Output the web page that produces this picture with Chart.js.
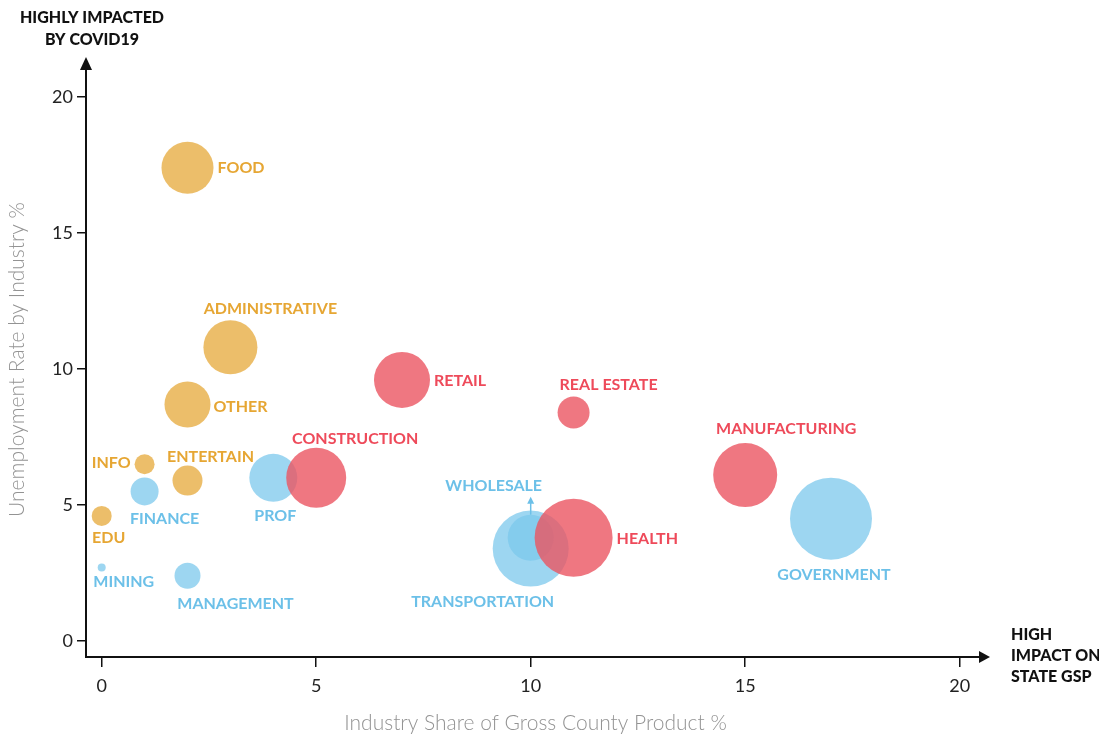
<!DOCTYPE html>
<html>
<head>
<meta charset="utf-8">
<script src="https://cdn.jsdelivr.net/npm/chart.js@4.4.1/dist/chart.umd.min.js"></script>
<style>
  html, body { margin: 0; padding: 0; background: #fff; }
  #wrap { width: 1099px; height: 736px; position: relative; }
</style>
</head>
<body>
<div id="wrap"><canvas id="chart"></canvas></div>
<script>
// Industries, grouped by colour (red / orange / blue)
const redNames = ['RETAIL', 'REAL ESTATE', 'CONSTRUCTION', 'HEALTH', 'MANUFACTURING'];
const redShare = [7, 11, 5, 11, 15];
const redUnemp = [9.6, 8.4, 6.0, 3.8, 6.1];
const redSize = [28, 16, 30, 39, 32];

const orangeNames = ['FOOD', 'ADMINISTRATIVE', 'OTHER', 'INFO', 'ENTERTAIN', 'EDU'];
const orangeShare = [2, 3, 2, 1, 2, 0];
const orangeUnemp = [17.4, 10.8, 8.7, 6.5, 5.9, 4.6];
const orangeSize = [26, 27, 23, 10, 15, 10];

const blueNames = ['PROF', 'FINANCE', 'MINING', 'MANAGEMENT', 'TRANSPORTATION', 'WHOLESALE', 'GOVERNMENT'];
const blueShare = [4, 1, 0, 2, 10, 10, 17];
const blueUnemp = [6.0, 5.5, 2.7, 2.4, 3.4, 3.8, 4.5];
const blueSize = [24, 14, 4, 13, 38, 23, 41];

const xTicks = [0, 5, 10, 15, 20];
const yTicks = [0, 5, 10, 15, 20];

// label placement relative to the bubble centre
const labelPos = {
  'FOOD': [30, 0, 'left'],
  'ADMINISTRATIVE': [40, -38, 'center'],
  'OTHER': [26, 2, 'left'],
  'INFO': [-14, -1, 'right'],
  'ENTERTAIN': [23, -24, 'center'],
  'EDU': [7, 22, 'center'],
  'RETAIL': [32, 1, 'left'],
  'REAL ESTATE': [35, -28, 'center'],
  'CONSTRUCTION': [39, -39, 'center'],
  'HEALTH': [43, 1, 'left'],
  'MANUFACTURING': [41, -46, 'center'],
  'PROF': [2, 38, 'center'],
  'FINANCE': [20, 27, 'center'],
  'MINING': [22, 14, 'center'],
  'MANAGEMENT': [48, 28, 'center'],
  'TRANSPORTATION': [-48, 53, 'center'],
  'WHOLESALE': [-37, -52, 'center'],
  'GOVERNMENT': [3, 56, 'center']
};

const FONT = "Lato, 'Noto Sans', sans-serif";

function points(xs, ys, rs) {
  return xs.map((x, i) => ({ x: x, y: ys[i], r: rs[i] }));
}

const groups = [
  { names: redNames, data: points(redShare, redUnemp, redSize), fill: 'rgba(235, 85, 98, 0.8)', text: '#ee4a5a' },
  { names: orangeNames, data: points(orangeShare, orangeUnemp, orangeSize), fill: 'rgba(229, 168, 56, 0.75)', text: '#e6a633' },
  { names: blueNames, data: points(blueShare, blueUnemp, blueSize), fill: 'rgba(124, 200, 236, 0.75)', text: '#6cc0e8' }
];

const labelPlugin = {
  id: 'bubbleLabels',
  afterDatasetsDraw(chart) {
    const ctx = chart.ctx;
    ctx.save();
    ctx.font = "bold 16px " + FONT;
    ctx.textBaseline = 'middle';
    groups.forEach((g, di) => {
      const meta = chart.getDatasetMeta(di);
      meta.data.forEach((el, i) => {
        const name = g.names[i];
        const p = labelPos[name];
        ctx.fillStyle = g.text;
        ctx.textAlign = p[2];
        ctx.fillText(name, el.x + p[0], el.y + p[1]);
        if (name === 'WHOLESALE') {
          // small pointer from the bubble up to its label
          const top = el.y - g.data[i].r;
          ctx.strokeStyle = g.text;
          ctx.lineWidth = 1.5;
          ctx.beginPath();
          ctx.moveTo(el.x, top);
          ctx.lineTo(el.x, top - 12);
          ctx.stroke();
          ctx.beginPath();
          ctx.moveTo(el.x, top - 18);
          ctx.lineTo(el.x - 3.5, top - 11);
          ctx.lineTo(el.x + 3.5, top - 11);
          ctx.closePath();
          ctx.fill();
        }
      });
    });
    ctx.restore();
  }
};

const axisExtras = {
  id: 'axisExtras',
  afterDraw(chart) {
    const ctx = chart.ctx;
    const a = chart.chartArea;
    ctx.save();
    ctx.fillStyle = '#111';
    ctx.strokeStyle = '#111';
    ctx.lineWidth = 2;
    // y arrow
    ctx.beginPath();
    ctx.moveTo(a.left, a.top);
    ctx.lineTo(a.left, a.top + 6);
    ctx.stroke();
    ctx.beginPath();
    ctx.moveTo(a.left, a.top - 5);
    ctx.lineTo(a.left - 6, a.top + 8);
    ctx.lineTo(a.left + 6, a.top + 8);
    ctx.closePath();
    ctx.fill();
    // x arrow
    ctx.beginPath();
    ctx.moveTo(a.right + 5, a.bottom);
    ctx.lineTo(a.right - 6, a.bottom - 6);
    ctx.lineTo(a.right - 6, a.bottom + 6);
    ctx.closePath();
    ctx.fill();

    ctx.font = "900 16px " + FONT;
    ctx.textBaseline = 'middle';
    ctx.textAlign = 'center';
    ctx.fillText('HIGHLY IMPACTED', 92, 18);
    ctx.fillText('BY COVID19', 92, 40);
    ctx.textAlign = 'left';
    ctx.fillText('HIGH', 1011, 635);
    ctx.fillText('IMPACT ON', 1011, 656);
    ctx.fillText('STATE GSP', 1011, 677);
    ctx.restore();
  }
};

new Chart(document.getElementById('chart'), {
  type: 'bubble',
  data: {
    datasets: groups.map(g => ({
      data: g.data,
      backgroundColor: g.fill,
      borderWidth: 0,
      hoverBorderWidth: 0
    }))
  },
  options: {
    responsive: true,
    maintainAspectRatio: false,
    animation: false,
    layout: { padding: { top: 62, right: 114, left: 0, bottom: 0 } },
    plugins: {
      legend: { display: false },
      tooltip: { enabled: false }
    },
    scales: {
      x: {
        type: 'linear',
        min: -0.366,
        max: 20.59,
        afterBuildTicks: s => { s.ticks = xTicks.map(v => ({ value: v })); },
        afterFit: s => { s.height = 79; },
        border: { display: true, color: '#111', width: 2 },
        grid: { display: true, drawOnChartArea: false, drawTicks: true, tickLength: 10, color: '#111', lineWidth: 1.5 },
        ticks: { color: '#222', padding: 8, font: { family: FONT, size: 18 } },
        title: {
          display: true,
          text: 'Industry Share of Gross County Product %',
          color: '#939393',
          font: { family: FONT, size: 21, weight: '300' },
          padding: { top: 0, bottom: 0 }
        }
      },
      y: {
        type: 'linear',
        min: -0.588,
        max: 21.29,
        afterBuildTicks: s => { s.ticks = yTicks.map(v => ({ value: v })); },
        afterFit: s => { s.width = 86; },
        border: { display: true, color: '#111', width: 2 },
        grid: { display: true, drawOnChartArea: false, drawTicks: true, tickLength: 9, color: '#111', lineWidth: 1.5 },
        ticks: { color: '#222', padding: 4, font: { family: FONT, size: 18 } },
        title: {
          display: true,
          text: 'Unemployment Rate by Industry %',
          color: '#939393',
          font: { family: FONT, size: 21, weight: '300' },
          padding: { top: 5, bottom: 0 }
        }
      }
    }
  },
  plugins: [labelPlugin, axisExtras]
});
</script>
</body>
</html>
